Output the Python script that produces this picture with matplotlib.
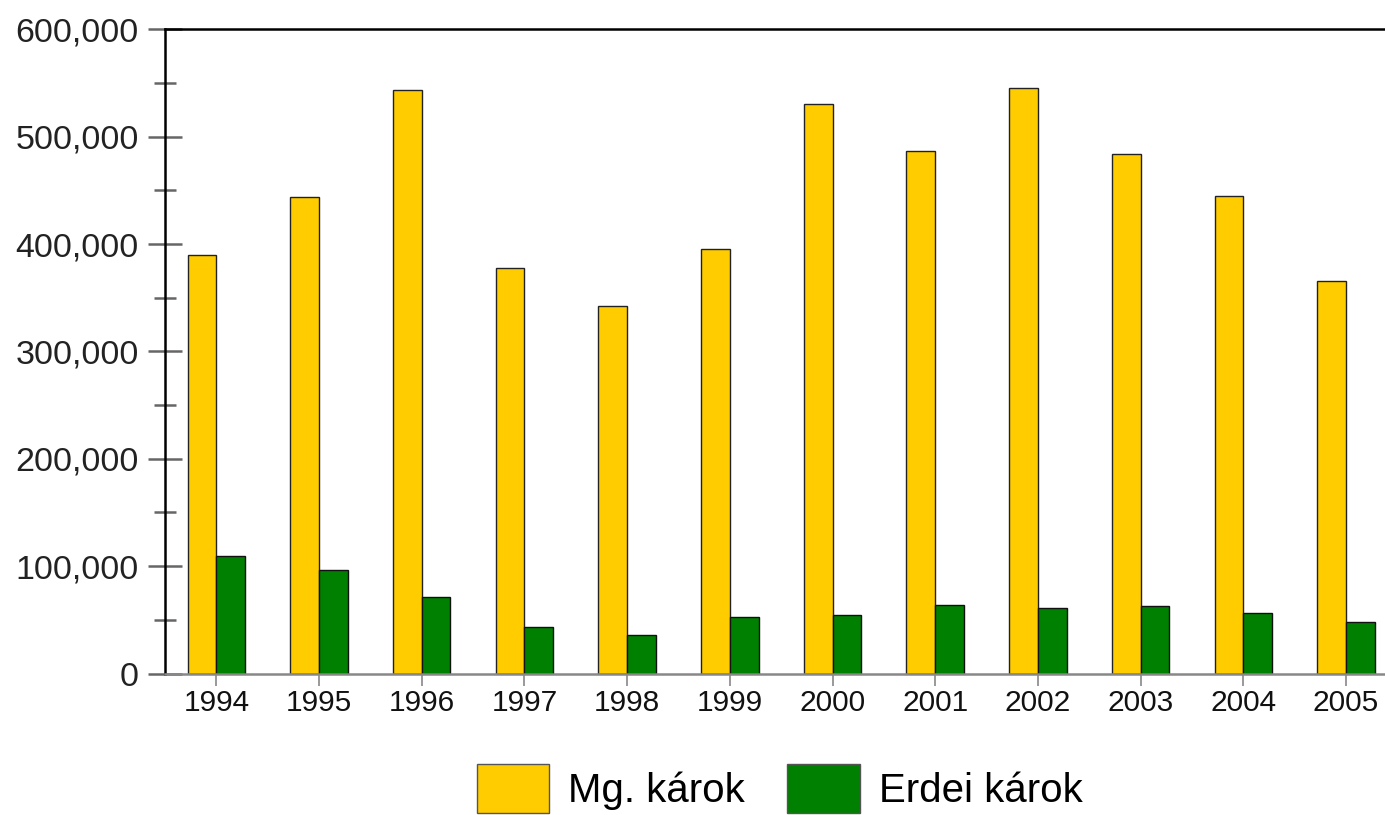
import numpy as np
import matplotlib.pyplot as plt
from matplotlib.ticker import MultipleLocator, FuncFormatter
from matplotlib.patches import Patch

plt.rcParams['font.family'] = ['Liberation Sans', 'DejaVu Sans']

years = ['1994', '1995', '1996', '1997', '1998', '1999',
         '2000', '2001', '2002', '2003', '2004', '2005']
mg_karok = [390000, 444000, 543000, 378000, 342000, 395000,
            530000, 487000, 545000, 484000, 445000, 366000]
erdei_karok = [109000, 96000, 71500, 43500, 36000, 52300,
               54500, 63800, 61000, 63100, 56600, 47700]
series_names = ['Mg. károk', 'Erdei károk']
colors = ['#FFCC00', '#008000']

fig = plt.figure(figsize=(13.85, 8.15), dpi=100)
ax = fig.add_axes([165/1385, 141.5/815, 1 - 165/1385, 644.2/815])

x = np.arange(len(years))
w = 0.28
ax.bar(x - w/2, mg_karok, w, color=colors[0], edgecolor='#222', linewidth=1)
ax.bar(x + w/2, erdei_karok, w, color=colors[1], edgecolor='#111', linewidth=1)

ax.set_xlim(-0.5, 11.38)
ax.set_ylim(0, 600000)

ax.spines['right'].set_visible(False)
ax.spines['top'].set_color('black')
ax.spines['top'].set_linewidth(1.8)
ax.spines['left'].set_color('black')
ax.spines['left'].set_linewidth(1.8)
ax.spines['bottom'].set_color('#888')
ax.spines['bottom'].set_linewidth(1.8)

ax.yaxis.set_major_locator(MultipleLocator(100000))
ax.yaxis.set_minor_locator(MultipleLocator(50000))
ax.yaxis.set_major_formatter(FuncFormatter(lambda v, p: '{:,.0f}'.format(v)))
ax.tick_params(axis='y', which='major', direction='inout', length=25, width=1.8,
               color='#666', labelsize=24.5, pad=6.5, labelcolor='#222')
ax.tick_params(axis='y', which='minor', direction='inout', length=16.5, width=1.8,
               color='#666')

ax.set_xticks(x)
ax.set_xticklabels(years)
ax.tick_params(axis='x', direction='out', length=8.5, width=1.2, color='#888',
               labelsize=21.5, pad=3, labelcolor='#111')

handles = [Patch(facecolor=colors[0], edgecolor='#555'),
           Patch(facecolor=colors[1], edgecolor='#555')]
fig.legend(handles, series_names, loc='center', bbox_to_anchor=(0.563, 0.032),
           ncol=2, frameon=False, fontsize=29, handlelength=1.8, handleheight=1.5,
           handletextpad=0.48, columnspacing=1.05, borderpad=0, borderaxespad=0)

plt.savefig('out.png', dpi=100)
